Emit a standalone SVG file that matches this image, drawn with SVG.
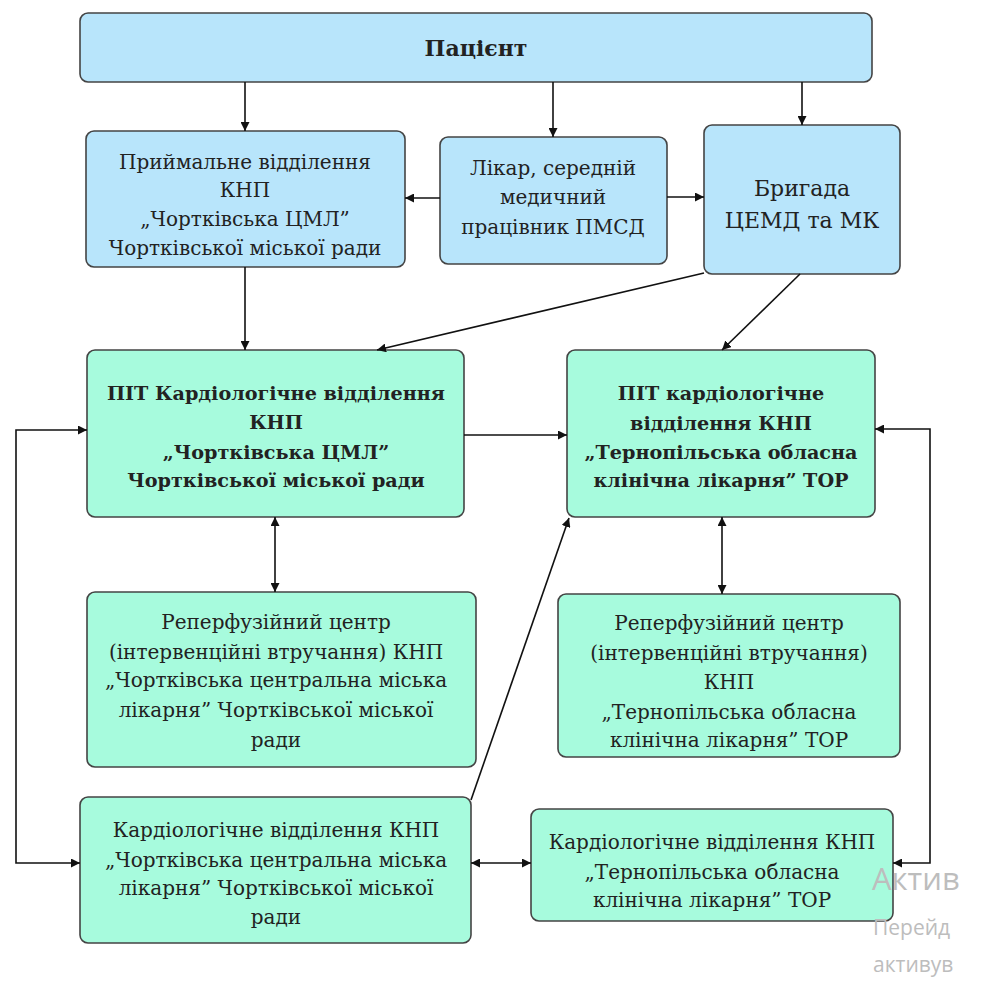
<svg xmlns="http://www.w3.org/2000/svg" width="989" height="987" viewBox="0 0 989 987">
<defs>
<marker id="ah" viewBox="0 0 10 10" refX="10" refY="5" markerWidth="9" markerHeight="9" markerUnits="userSpaceOnUse" orient="auto-start-reverse">
<path d="M0,0 L10,5 L0,10 z" fill="#111"/>
</marker>
<style>
.blue{fill:#b8e5fb;stroke:#444;stroke-width:1.6}
.green{fill:#a7fbdd;stroke:#444;stroke-width:1.6}
.c{fill:none;stroke:#111;stroke-width:1.6}
</style>
</defs>
<rect width="989" height="987" fill="#fff"/>

<g id="patient" font-family="DejaVu Serif" font-size="22" font-weight="bold" text-anchor="middle" fill="#222">
<rect class="blue" x="80" y="13" width="792" height="69" rx="8"/>
<text x="476" y="56">Пацієнт</text>
</g>

<g id="reception" font-family="DejaVu Serif" font-size="20" text-anchor="middle" fill="#222">
<rect class="blue" x="86" y="131" width="319" height="136" rx="8"/>
<text x="245" y="169">Приймальне відділення</text>
<text x="245" y="197">КНП</text>
<text x="245" y="226">„Чортківська ЦМЛ”</text>
<text x="245" y="255">Чортківської міської ради</text>
</g>

<g id="doctor" font-family="DejaVu Serif" font-size="20" text-anchor="middle" fill="#222">
<rect class="blue" x="440" y="137" width="227" height="127" rx="8"/>
<text x="553" y="175">Лікар, середній</text>
<text x="553" y="204">медичний</text>
<text x="553" y="234">працівник ПМСД</text>
</g>

<g id="brigade" font-family="DejaVu Serif" font-size="22" text-anchor="middle" fill="#222">
<rect class="blue" x="704" y="125" width="196" height="149" rx="8"/>
<text x="802" y="196">Бригада</text>
<text x="802" y="228">ЦЕМД та МК</text>
</g>

<g id="pit1" font-family="DejaVu Serif" font-size="19.2" font-weight="bold" text-anchor="middle" fill="#222">
<rect class="green" x="87" y="350" width="377" height="167" rx="8"/>
<text x="276" y="400">ПІТ Кардіологічне відділення</text>
<text x="276" y="429">КНП</text>
<text x="276" y="459">„Чортківська ЦМЛ”</text>
<text x="276" y="487">Чортківської міської ради</text>
</g>

<g id="pit2" font-family="DejaVu Serif" font-size="19.2" font-weight="bold" text-anchor="middle" fill="#222">
<rect class="green" x="567" y="350" width="308" height="167" rx="8"/>
<text x="721" y="400">ПІТ кардіологічне</text>
<text x="721" y="430">відділення КНП</text>
<text x="721" y="459">„Тернопільська обласна</text>
<text x="721" y="487">клінічна лікарня” ТОР</text>
</g>

<g id="reperf1" font-family="DejaVu Serif" font-size="20" text-anchor="middle" fill="#222">
<rect class="green" x="87" y="592" width="389" height="175" rx="8"/>
<text x="276" y="629">Реперфузійний центр</text>
<text x="276" y="659">(інтервенційні втручання) КНП</text>
<text x="276" y="687">„Чортківська центральна міська</text>
<text x="276" y="717">лікарня” Чортківської міської</text>
<text x="276" y="747">ради</text>
</g>

<g id="reperf2" font-family="DejaVu Serif" font-size="20" text-anchor="middle" fill="#222">
<rect class="green" x="558" y="594" width="342" height="163" rx="8"/>
<text x="729" y="630">Реперфузійний центр</text>
<text x="729" y="660">(інтервенційні втручання)</text>
<text x="729" y="689">КНП</text>
<text x="729" y="719">„Тернопільська обласна</text>
<text x="729" y="747">клінічна лікарня” ТОР</text>
</g>

<g id="kard1" font-family="DejaVu Serif" font-size="20" text-anchor="middle" fill="#222">
<rect class="green" x="80" y="797" width="391" height="146" rx="8"/>
<text x="276" y="837">Кардіологічне відділення КНП</text>
<text x="276" y="867">„Чортківська центральна міська</text>
<text x="276" y="895">лікарня” Чортківської міської</text>
<text x="276" y="924">ради</text>
</g>

<g id="kard2" font-family="DejaVu Serif" font-size="20" text-anchor="middle" fill="#222">
<rect class="green" x="531" y="809" width="362" height="112" rx="8"/>
<text x="712" y="849">Кардіологічне відділення КНП</text>
<text x="712" y="879">„Тернопільська обласна</text>
<text x="712" y="907">клінічна лікарня” ТОР</text>
</g>

<g id="connectors">
<path class="c" d="M245,82 V131" marker-end="url(#ah)"/>
<path class="c" d="M553,82 V137" marker-end="url(#ah)"/>
<path class="c" d="M802,82 V125" marker-end="url(#ah)"/>
<path class="c" d="M440,198 H405" marker-end="url(#ah)"/>
<path class="c" d="M667,197 H704" marker-end="url(#ah)"/>
<path class="c" d="M245,267 V350" marker-end="url(#ah)"/>
<path class="c" d="M704,273 L377,350" marker-end="url(#ah)"/>
<path class="c" d="M800,274 L722,350" marker-end="url(#ah)"/>
<path class="c" d="M464,435 H567" marker-end="url(#ah)"/>
<path class="c" d="M275,517 V592" marker-start="url(#ah)" marker-end="url(#ah)"/>
<path class="c" d="M722,517 V594" marker-start="url(#ah)" marker-end="url(#ah)"/>
<path class="c" d="M87,430 H16 V863 H80" marker-start="url(#ah)" marker-end="url(#ah)"/>
<path class="c" d="M875,429 H930 V863 H893" marker-start="url(#ah)" marker-end="url(#ah)"/>
<path class="c" d="M471,800 L569,518" marker-end="url(#ah)"/>
<path class="c" d="M471,863 H531" marker-start="url(#ah)" marker-end="url(#ah)"/>
</g>

<g id="watermark" font-family="Open Sans" fill="#bdbdbd">
<text x="872" y="890" font-size="31">Актив</text>
<text x="873" y="935" font-size="21">Перейд</text>
<text x="873" y="972" font-size="21">активув</text>
</g>
</svg>
